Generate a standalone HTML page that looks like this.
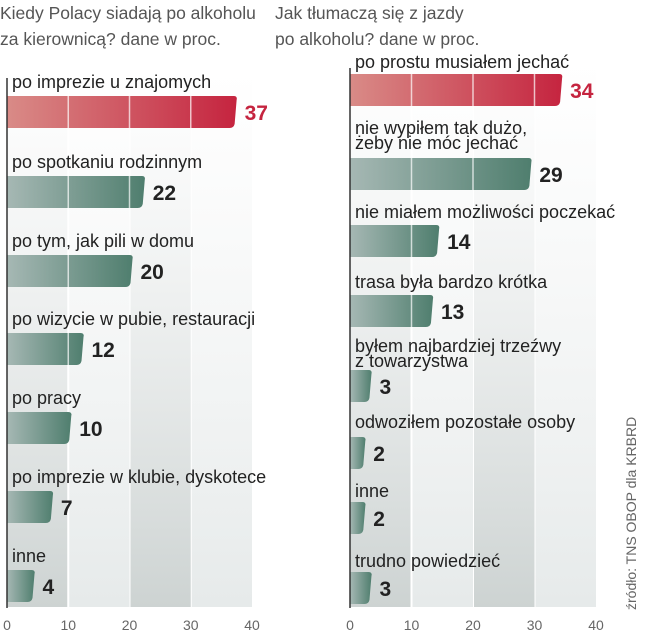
<!DOCTYPE html>
<html><head><meta charset="utf-8"><style>
html,body{margin:0;padding:0;background:#fff;}
svg{display:block;font-family:"Liberation Sans Narrow","Liberation Sans",sans-serif;}
.t{fill:#555;font-size:17.5px;}
.l{fill:#222;font-size:18px;}
.v{font-size:21px;font-weight:bold;}
.ax{fill:#666;font-size:14px;}
</style></head><body>
<svg id="c" width="648" height="640" viewBox="0 0 648 640">
<defs>
<linearGradient id="bandA" x1="0" y1="0" x2="0" y2="1"><stop offset="0" stop-color="#dfe3e3" stop-opacity="0"/><stop offset="1" stop-color="#cdd3d2"/></linearGradient>
<linearGradient id="bandB" x1="0" y1="0" x2="0" y2="1"><stop offset="0" stop-color="#eef0f0" stop-opacity="0"/><stop offset="1" stop-color="#e6eaea"/></linearGradient>
<linearGradient id="red" x1="0" y1="0" x2="1" y2="0"><stop offset="0" stop-color="#d98b87"/><stop offset="1" stop-color="#c5243f"/></linearGradient>
<linearGradient id="green" x1="0" y1="0" x2="1" y2="0"><stop offset="0" stop-color="#a6b8b4"/><stop offset="1" stop-color="#4f7e6e"/></linearGradient>
</defs>
<text class="t" x="0" y="19">Kiedy Polacy siadają po alkoholu</text>
<text class="t" x="0" y="45">za kierownicą? dane w proc.</text>
<text class="t" x="275" y="19">Jak tłumaczą się z jazdy</text>
<text class="t" x="275" y="45">po alkoholu? dane w proc.</text>
<text class="ax" transform="translate(636,610) rotate(-90)">źródło: TNS OBOP dla KRBRD</text>
<g id="left"></g>
<g id="right"></g>
</svg>
<script>
const leftLabels = [["po imprezie u znajomych"],["po spotkaniu rodzinnym"],["po tym, jak pili w domu"],["po wizycie w pubie, restauracji"],["po pracy"],["po imprezie w klubie, dyskotece"],["inne"]];
const leftValues = [37,22,20,12,10,7,4];
const rightLabels = [["po prostu musiałem jechać"],["nie wypiłem tak dużo,","żeby nie móc jechać"],["nie miałem możliwości poczekać"],["trasa była bardzo krótka"],["byłem najbardziej trzeźwy","z towarzystwa"],["odwoziłem pozostałe osoby"],["inne"],["trudno powiedzieć"]];
const rightValues = [34,29,14,13,3,2,2,3];
const tickValues = [0,10,20,30,40];
const NS="http://www.w3.org/2000/svg";
function mk(tag,attrs,parent){const e=document.createElementNS(NS,tag);for(const k in attrs)e.setAttribute(k,attrs[k]);parent.appendChild(e);return e;}
function draw(gid,labels,values,x0,x40,barTops,labelYs,top){
  const g=document.getElementById(gid);
  const sx=v=>x0+(x40-x0)*v/40;
  for(let i=0;i<4;i++){
    const b=mk('rect',{x:sx(i*10)+(i?1:0),y:top,width:sx(10)-sx(0)-1,height:607-top,fill:(i%2==0)?"url(#bandA)":"url(#bandB)"},g);
    
    
  }
  tickValues.forEach(t=>{
    const tx=mk('text',{x:sx(t),y:630,'text-anchor':'middle',class:'ax'},g);
    tx.textContent=t;
    
    
  });
  values.forEach((v,i)=>{
    const y=barTops[i],h=32,xe=sx(v)+3;
    const col=i==0?"url(#red)":"url(#green)";
    const p=mk('path',{d:`M${x0},${y} L${xe-3},${y} Q${xe+1},${y} ${xe},${y+4} L${xe-2},${y+h-4} Q${xe-3},${y+h} ${xe-7},${y+h} L${x0},${y+h} Z`,fill:col},g);
    
    
    for(let t=10;t<v;t+=10){
      const ln=mk('line',{x1:sx(t),x2:sx(t),y1:y,y2:y+h,stroke:'#fff','stroke-opacity':0.7,'stroke-width':1.5},g);
      
      
    }
    const vt=mk('text',{x:xe+8,y:y+h/2+8,class:'v',fill:i==0?'#c5243f':'#222'},g);
    vt.textContent=v;
    
    
    labels[i].forEach((s,j)=>{
      const lt=mk('text',{x:x0+5,y:labelYs[i]+j*15,class:'l'},g);
      lt.textContent=s;
      
      
    });
  });
  const ax=mk('line',{x1:x0,x2:x0,y1:top+8,y2:608,stroke:'#333','stroke-width':1.5},g);
  
  
}
draw('left',leftLabels,leftValues,7,252,[96,176,255,333,412,491,570],[88,168,247,325,404,483,562],70);
draw('right',rightLabels,rightValues,350,596,[74,158,225,295,370,437,502,572],[68,134,218,288,352,428,497,567],60);
</script>
</body></html>
